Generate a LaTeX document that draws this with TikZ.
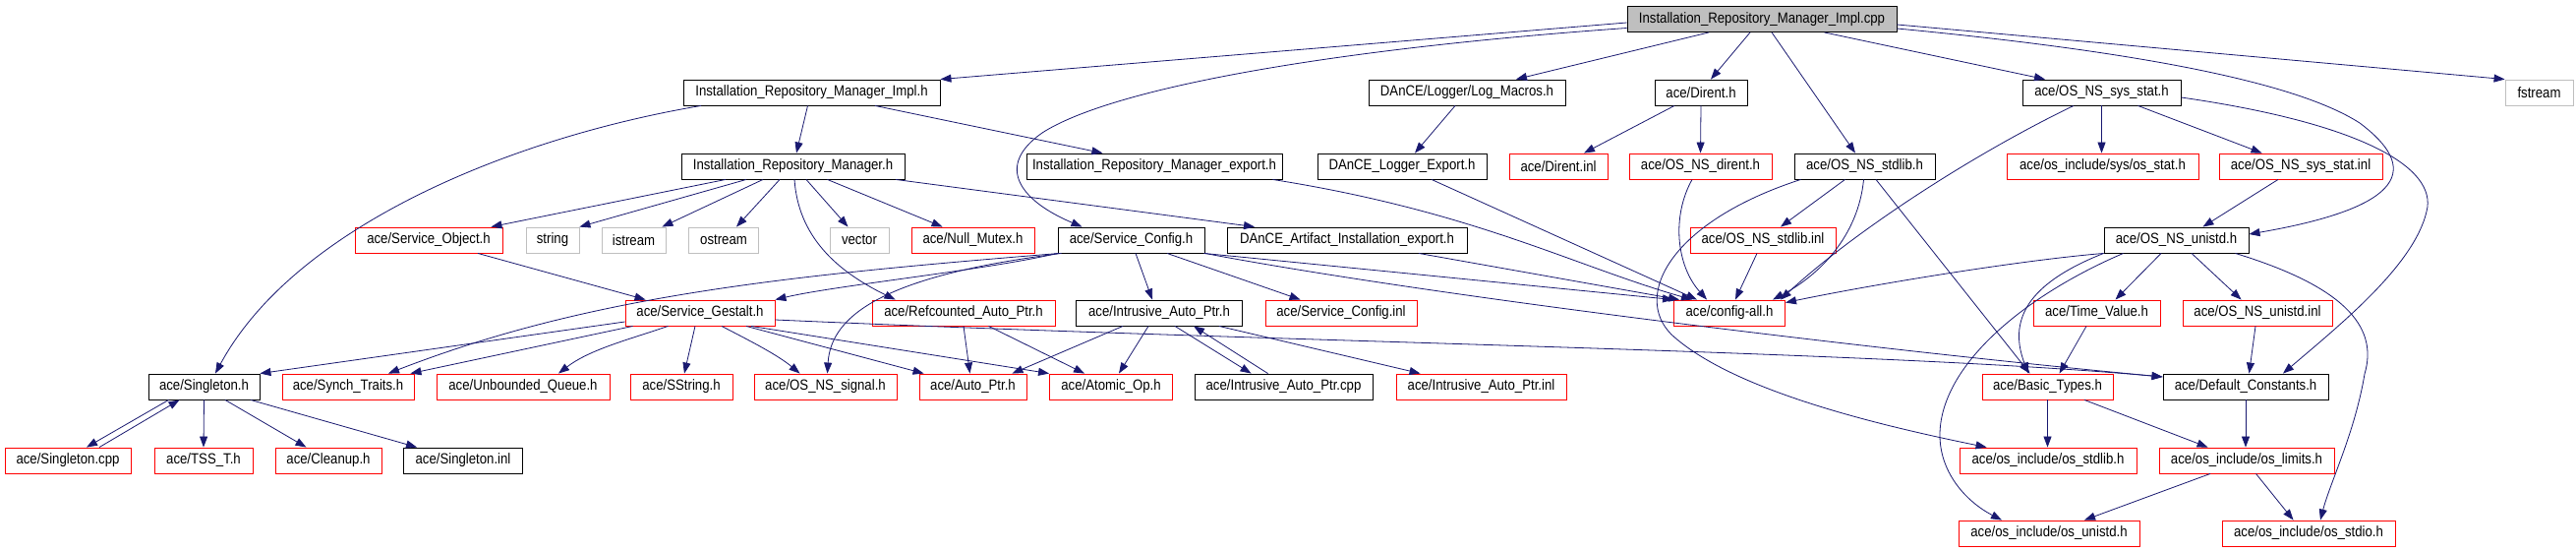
\documentclass[tikz,border=0pt]{standalone}
\usepackage{fontspec}
\setmainfont{Liberation Sans}[FakeStretch=0.88]
\usetikzlibrary{arrows.meta}
\definecolor{edgecol}{HTML}{191970}
\definecolor{graybox}{HTML}{BFBFBF}
\tikzset{
  nd/.style={rectangle, draw=black, line width=0.9pt, minimum height=26pt, inner sep=0pt, font=\fontsize{15}{17}\selectfont, text=black},
  rd/.style={nd, draw=red},
  gy/.style={nd, draw=graybox},
  edge/.style={draw=edgecol, line width=0.8pt, -{Triangle[length=11pt,width=8pt]}},
}
\begin{document}
\begin{tikzpicture}[x=1pt,y=-1pt]
\fill[white] (0,0) rectangle (2620,560);
\useasboundingbox (0,0) rectangle (2620,560);
% row 0
\node[nd, fill=graybox, minimum width=274pt] (cpp) at (1792,19.5) {Installation\_Repository\_Manager\_Impl.cpp};
% row 1
\node[nd, minimum width=261pt] (implh) at (825.5,94) {Installation\_Repository\_Manager\_Impl.h};
\node[nd, minimum width=200pt] (logmac) at (1492,94) {DAnCE/Logger/Log\_Macros.h};
\node[nd, minimum width=94pt] (direnth) at (1730,94) {ace/Dirent.h};
\node[nd, minimum width=161pt] (sysstat) at (2137.5,94) {ace/OS\_NS\_sys\_stat.h};
\node[gy, minimum width=69pt] (fstream) at (2582.5,94) {fstream};
% row 2
\node[nd, minimum width=227pt] (mgrh) at (806.5,169) {Installation\_Repository\_Manager.h};
\node[nd, minimum width=260pt] (mgrexp) at (1174,169) {Installation\_Repository\_Manager\_export.h};
\node[nd, minimum width=172pt] (loggerexp) at (1426,169) {DAnCE\_Logger\_Export.h};
\node[rd, minimum width=100pt] (direntinl) at (1585,169) {ace/Dirent.inl};
\node[rd, minimum width=145pt] (osdirent) at (1729.5,169) {ace/OS\_NS\_dirent.h};
\node[nd, minimum width=143pt] (stdlibh) at (1896.5,169) {ace/OS\_NS\_stdlib.h};
\node[rd, minimum width=195pt] (osstat) at (2138.5,169) {ace/os\_include/sys/os\_stat.h};
\node[rd, minimum width=166pt] (sysstatinl) at (2340,169) {ace/OS\_NS\_sys\_stat.inl};
% row 3
\node[rd, minimum width=150pt] (svcobj) at (436,244) {ace/Service\_Object.h};
\node[gy, minimum width=54pt] (string) at (562,244) {string};
\node[gy, minimum width=65pt] (istream) at (644.5,244) {istream};
\node[gy, minimum width=71pt] (ostream) at (736,244) {ostream};
\node[gy, minimum width=60pt] (vector) at (874,244) {vector};
\node[rd, minimum width=125pt] (nullmutex) at (989.5,244) {ace/Null\_Mutex.h};
\node[nd, minimum width=149pt] (svcconf) at (1150.5,244) {ace/Service\_Config.h};
\node[nd, minimum width=244pt] (artexp) at (1370,244) {DAnCE\_Artifact\_Installation\_export.h};
\node[rd, minimum width=148pt] (stdlibinl) at (1793,244) {ace/OS\_NS\_stdlib.inl};
\node[nd, minimum width=147pt] (unistdh) at (2213.5,244) {ace/OS\_NS\_unistd.h};
% row 4
\node[rd, minimum width=152pt] (gestalt) at (712,318) {ace/Service\_Gestalt.h};
\node[rd, minimum width=186pt] (refauto) at (980,318) {ace/Refcounted\_Auto\_Ptr.h};
\node[nd, minimum width=169pt] (intrauto) at (1179,318) {ace/Intrusive\_Auto\_Ptr.h};
\node[rd, minimum width=154pt] (svcinl) at (1364,318) {ace/Service\_Config.inl};
\node[rd, minimum width=113pt] (configall) at (1759,318) {ace/config-all.h};
\node[rd, minimum width=129pt] (timevalue) at (2132.5,318) {ace/Time\_Value.h};
\node[rd, minimum width=152pt] (unistdinl) at (2296,318) {ace/OS\_NS\_unistd.inl};
% row 5
\node[nd, minimum width=113pt] (singh) at (207.5,393) {ace/Singleton.h};
\node[rd, minimum width=134pt] (synch) at (354,393) {ace/Synch\_Traits.h};
\node[rd, minimum width=176pt] (unbq) at (532,393) {ace/Unbounded\_Queue.h};
\node[rd, minimum width=104pt] (sstring) at (693,393) {ace/SString.h};
\node[rd, minimum width=145pt] (signal) at (839.5,393) {ace/OS\_NS\_signal.h};
\node[rd, minimum width=109pt] (autoptr) at (989.5,393) {ace/Auto\_Ptr.h};
\node[rd, minimum width=125pt] (atomic) at (1130,393) {ace/Atomic\_Op.h};
\node[nd, minimum width=181pt] (intrcpp) at (1305.5,393) {ace/Intrusive\_Auto\_Ptr.cpp};
\node[rd, minimum width=173pt] (intrinl) at (1506.5,393) {ace/Intrusive\_Auto\_Ptr.inl};
\node[rd, minimum width=133pt] (basic) at (2082.5,393) {ace/Basic\_Types.h};
\node[nd, minimum width=168pt] (defconst) at (2284,393) {ace/Default\_Constants.h};
% row 6
\node[rd, minimum width=128pt] (singcpp) at (69,468) {ace/Singleton.cpp};
\node[rd, minimum width=100pt] (tss) at (207,468) {ace/TSS\_T.h};
\node[rd, minimum width=108pt] (cleanup) at (334,468) {ace/Cleanup.h};
\node[nd, minimum width=121pt] (singinl) at (471,468) {ace/Singleton.inl};
\node[rd, minimum width=180pt] (osstdlib) at (2083,468) {ace/os\_include/os\_stdlib.h};
\node[rd, minimum width=178pt] (oslimits) at (2285,468) {ace/os\_include/os\_limits.h};
% row 7
\node[rd, minimum width=184pt] (osunistd) at (2084,542) {ace/os\_include/os\_unistd.h};
\node[rd, minimum width=176pt] (osstdio) at (2348,542) {ace/os\_include/os\_stdio.h};

% edges from cpp
\draw[edge] ([yshift=-3.5pt]cpp.west) -- (implh.north east);
\draw[edge] ([yshift=-9pt]cpp.west) .. controls (1350,50) and (1130,90) .. (1060,135) .. controls (1010,170) and (1040,205) .. ([xshift=-50pt]svcconf.north);
\draw[edge] ([xshift=-54pt]cpp.south) -- ([xshift=50pt]logmac.north);
\draw[edge] ([xshift=-12pt]cpp.south) -- ([xshift=10pt]direnth.north);
\draw[edge] ([xshift=10pt]cpp.south) -- ([xshift=-9.5pt]stdlibh.north);
\draw[edge] ([xshift=63.5pt]cpp.south) -- ([xshift=-57.5pt]sysstat.north);
\draw[edge] ([yshift=-5.5pt]cpp.east) -- (fstream.north west);
\draw[edge] ([yshift=-9.5pt]cpp.east) .. controls (2150,50) and (2330,80) .. (2400,125) .. controls (2460,170) and (2450,210) .. ([yshift=6pt]unistdh.east);
% row 1 sources
\draw[edge] ([xshift=-12pt]logmac.south) -- ([xshift=13pt]loggerexp.north);
\draw[edge] ([xshift=-27pt]direnth.south) -- ([xshift=26pt]direntinl.north);
\draw[edge] (direnth.south) -- (osdirent.north);
\draw[edge] ([xshift=-4pt]implh.south) -- ([xshift=3.5pt]mgrh.north);
\draw[edge] ([xshift=64.5pt]implh.south) -- ([xshift=-52.6pt]mgrexp.north);
\draw[edge] ([xshift=-112.5pt]implh.south) .. controls (520,140) and (300,230) .. ([xshift=11.5pt]singh.north);
% Manager.h
\draw[edge] ([xshift=-68.5pt]mgrh.south) -- ([xshift=-12pt]svcobj.north east);
\draw[edge] ([xshift=-47.5pt]mgrh.south) -- (string.north east);
\draw[edge] ([xshift=-30.5pt]mgrh.south) -- ([xshift=-4pt]istream.north east);
\draw[edge] ([xshift=-13.5pt]mgrh.south) -- ([xshift=13pt]ostream.north);
\draw[edge] ([xshift=1.5pt]mgrh.south) .. controls (812,240) and (850,275) .. ([xshift=24pt]refauto.north west);
\draw[edge] ([xshift=13.5pt]mgrh.south) -- ([xshift=-11.5pt]vector.north);
\draw[edge] ([xshift=35pt]mgrh.south) -- ([xshift=32pt]nullmutex.north west);
\draw[edge] ([xshift=104.5pt]mgrh.south) -- ([xshift=28.5pt]artexp.north west);
% into config-all
\draw[edge] ([xshift=-10pt]mgrexp.south east) .. controls (1500,215) and (1600,270) .. ([xshift=-38pt]configall.north);
\draw[edge] ([xshift=30pt]loggerexp.south) -- ([xshift=-33pt]configall.north);
\draw[edge] ([xshift=73pt]artexp.south) -- ([xshift=6pt]configall.north west);
\draw[edge] ([xshift=-8.5pt]osdirent.south) .. controls (1700,220) and (1705,270) .. ([xshift=-23pt]configall.north);
\draw[edge] ([xshift=-6pt]stdlibinl.south) -- ([xshift=6pt]configall.north);
\draw[edge] ([xshift=-1pt]stdlibh.south) .. controls (1890,240) and (1850,280) .. ([xshift=44pt]configall.north);
\draw[edge] ([xshift=-28.5pt]sysstat.south) .. controls (2000,160) and (1880,240) .. ([xshift=52pt]configall.north);
\draw[edge] (unistdh.south west) .. controls (2050,265) and (1900,290) .. ([yshift=-3pt]configall.north east);
% Service_Config.h
\draw[edge] ([xshift=36.5pt]svcconf.south) -- ([xshift=36pt]svcinl.north west);
\draw[edge] ([xshift=-1pt]svcconf.south east) -- (configall.north west);
\draw[edge] (svcconf.south east) .. controls (1450,300) and (1900,355) .. ([yshift=10pt]defconst.west);
\draw[edge] (svcconf.south west) .. controls (1000,275) and (850,290) .. (gestalt.north east);
\draw[edge] ([xshift=2pt]svcconf.south west) .. controls (800,280) and (600,300) .. ([xshift=41pt]synch.north);
\draw[edge] ([xshift=4pt]svcconf.south west) .. controls (900,280) and (845,320) .. ([xshift=2pt]signal.north);
\draw[edge] ([xshift=4.5pt]svcconf.south) -- ([xshift=-7pt]intrauto.north);
% Service_Object.h
\draw[edge] ([xshift=50pt]svcobj.south) -- ([xshift=21pt]gestalt.north west);
% Service_Gestalt.h
\draw[edge] ([yshift=-7pt]gestalt.east) .. controls (1300,348) and (1900,356) .. ([yshift=10pt]defconst.west);
\draw[edge] ([yshift=-9pt]gestalt.west) -- (singh.north east);
\draw[edge] ([xshift=8pt]gestalt.south west) -- ([xshift=-4pt]synch.north east);
\draw[edge] ([xshift=-32.5pt]gestalt.south) .. controls (640,345) and (600,355) .. ([xshift=36pt]unbq.north);
\draw[edge] ([xshift=-5pt]gestalt.south) -- ([xshift=3pt]sstring.north);
\draw[edge] ([xshift=22pt]gestalt.south) .. controls (760,345) and (790,360) .. ([xshift=47pt]signal.north west);
\draw[edge] ([xshift=47pt]gestalt.south) -- ([xshift=5pt]autoptr.north west);
\draw[edge] ([xshift=52pt]gestalt.south) -- (atomic.north west);
% Refcounted / Intrusive
\draw[edge] (refauto.south) -- ([xshift=-3pt]autoptr.north);
\draw[edge] ([xshift=25.5pt]refauto.south) -- ([xshift=36pt]atomic.north west);
\draw[edge] ([xshift=-37pt]intrauto.south) -- ([xshift=-15pt]autoptr.north east);
\draw[edge] ([xshift=-11pt]intrauto.south) -- ([xshift=8pt]atomic.north);
\draw[edge] ([xshift=16pt]intrauto.south) -- ([xshift=58pt]intrcpp.north west);
\draw[edge] ([xshift=75pt]intrcpp.north west) -- ([xshift=35pt]intrauto.south);
\draw[edge] ([xshift=-24pt]intrauto.south east) -- ([xshift=25pt]intrinl.north west);
% Singleton
\draw[edge] ([xshift=21pt]singh.south west) -- ([xshift=19pt]singcpp.north);
\draw[edge] ([xshift=32pt]singcpp.north) -- ([xshift=32pt]singh.south west);
\draw[edge] (singh.south) -- (tss.north);
\draw[edge] ([xshift=21.5pt]singh.south) -- ([xshift=-22.5pt]cleanup.north);
\draw[edge] ([xshift=-9.5pt]singh.south east) -- ([xshift=14pt]singinl.north west);
% OS_NS_stdlib.h
\draw[edge] ([xshift=-20pt]stdlibh.south) -- ([xshift=18pt]stdlibinl.north);
\draw[edge] ([xshift=7pt]stdlibh.south west) .. controls (1700,225) and (1660,300) .. (1700,340) .. controls (1760,395) and (1900,430) .. ([xshift=28pt]osstdlib.north west);
\draw[edge] ([xshift=11.5pt]stdlibh.south) -- ([xshift=-18pt]basic.north);
% OS_NS_unistd.h
\draw[edge] (unistdh.south west) .. controls (2070,285) and (2040,320) .. ([xshift=-19.5pt]basic.north);
\draw[edge] ([xshift=20pt]unistdh.south west) .. controls (2060,300) and (1975,370) .. (1973,440) .. controls (1972,480) and (2000,510) .. ([xshift=-48pt]osunistd.north);
\draw[edge] ([xshift=-15.5pt]unistdh.south) -- ([xshift=19pt]timevalue.north);
\draw[edge] ([xshift=15.5pt]unistdh.south) -- ([xshift=60pt]unistdinl.north west);
\draw[edge] ([xshift=60pt]unistdh.south) .. controls (2380,290) and (2420,330) .. (2405,380) .. controls (2395,440) and (2370,490) .. ([xshift=12pt]osstdio.north);
% OS_NS_sys_stat.h
\draw[edge] ([yshift=-5pt]sysstat.east) .. controls (2400,125) and (2480,170) .. (2468,215) .. controls (2455,270) and (2380,330) .. ([xshift=38pt]defconst.north);
\draw[edge] (sysstat.south) -- ([xshift=-1pt]osstat.north);
\draw[edge] ([xshift=37pt]sysstat.south) -- ([xshift=44pt]sysstatinl.north west);
\draw[edge] ([xshift=-23pt]sysstatinl.south) -- ([xshift=-47pt]unistdh.north east);
% lower right
\draw[edge] ([xshift=-10.5pt]timevalue.south) -- ([xshift=12pt]basic.north);
\draw[edge] ([xshift=-2pt]unistdinl.south) -- ([xshift=3.5pt]defconst.north);
\draw[edge] (basic.south) -- ([xshift=-0.5pt]osstdlib.north);
\draw[edge] ([xshift=37.5pt]basic.south) -- ([xshift=50pt]oslimits.north west);
\draw[edge] (defconst.south) -- ([xshift=-1pt]oslimits.north);
\draw[edge] ([xshift=-37pt]oslimits.south) -- ([xshift=36pt]osunistd.north);
\draw[edge] ([xshift=9.5pt]oslimits.south) -- ([xshift=-15.5pt]osstdio.north);
\end{tikzpicture}
\end{document}
